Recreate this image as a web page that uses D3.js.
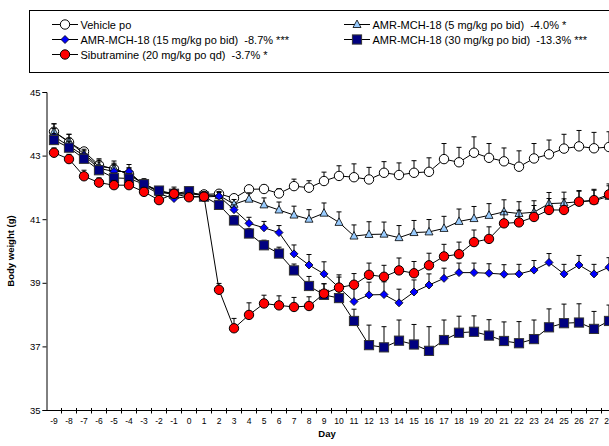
<!DOCTYPE html>
<html>
<head>
<meta charset="utf-8">
<script src="https://cdn.jsdelivr.net/npm/d3@7"></script>
<style>
  body { margin: 0; background: #fff; }
  svg { display: block; font-family: "Liberation Sans", Arial, sans-serif; }
</style>
</head>
<body>
<svg width="609" height="446"></svg>
<script>
// days on the x axis (category axis)
const days = d3.range(-9, 29);
const yTicks = [35, 37, 39, 41, 43, 45];

// body weight (g), one value per day
const vehicle = [43.75, 43.42, 43.13, 42.7, 42.58, 42.42, 42.12, 41.86, 41.81, 41.82, 41.78, 41.8, 41.66, 41.94, 41.95, 41.81, 42.04, 41.99, 42.2, 42.36, 42.32, 42.25, 42.46, 42.39, 42.46, 42.49, 42.89, 42.79, 43.09, 42.93, 42.82, 42.65, 42.91, 43.04, 43.22, 43.29, 43.23, 43.27];
const vehicleErr = [0.25, 0.25, 0.12, 0.2, 0.18, 0.2, 0.15, 0.15, 0.2, 0.15, 0.12, 0.1, 0.08, 0.1, 0.12, 0.15, 0.22, 0.22, 0.28, 0.32, 0.42, 0.38, 0.35, 0.38, 0.38, 0.44, 0.49, 0.47, 0.5, 0.45, 0.42, 0.5, 0.47, 0.45, 0.45, 0.5, 0.5, 0.48];

const mch5 = [43.75, 43.44, 43.05, 42.66, 42.6, 42.4, 42.1, 41.85, 41.78, 41.8, 41.75, 41.75, 41.47, 41.63, 41.45, 41.29, 41.13, 41.0, 41.19, 40.9, 40.47, 40.52, 40.53, 40.42, 40.58, 40.6, 40.71, 40.93, 41.02, 41.12, 41.23, 41.18, 41.22, 41.49, 41.51, 41.55, 41.58, 41.72];
const mch5Err = [0.25, 0.23, 0.15, 0.2, 0.23, 0.2, 0.15, 0.15, 0.15, 0.12, 0.12, 0.12, 0.15, 0.2, 0.22, 0.25, 0.28, 0.3, 0.32, 0.33, 0.35, 0.4, 0.38, 0.38, 0.38, 0.39, 0.38, 0.39, 0.38, 0.37, 0.38, 0.37, 0.36, 0.35, 0.34, 0.33, 0.33, 0.33];

const mch15 = [43.6, 43.3, 43.0, 42.6, 42.5, 42.5, 42.05, 41.8, 41.65, 41.72, 41.7, 41.72, 41.3, 40.87, 40.73, 40.58, 39.91, 39.56, 39.28, 38.85, 38.41, 38.62, 38.63, 38.37, 38.71, 38.93, 39.14, 39.32, 39.32, 39.3, 39.27, 39.28, 39.4, 39.64, 39.28, 39.56, 39.28, 39.49];
const mch15Err = [0.25, 0.25, 0.15, 0.2, 0.2, 0.22, 0.15, 0.15, 0.15, 0.12, 0.12, 0.12, 0.15, 0.19, 0.2, 0.22, 0.28, 0.33, 0.38, 0.4, 0.45, 0.4, 0.4, 0.43, 0.38, 0.35, 0.32, 0.3, 0.3, 0.3, 0.3, 0.3, 0.3, 0.28, 0.3, 0.3, 0.3, 0.3];

const mch30 = [43.49, 43.25, 42.9, 42.54, 42.3, 42.28, 42.1, 41.9, 41.8, 41.88, 41.71, 41.45, 40.96, 40.55, 40.18, 39.92, 39.39, 38.9, 38.62, 38.52, 37.8, 37.04, 36.97, 37.18, 37.06, 36.86, 37.2, 37.43, 37.46, 37.34, 37.17, 37.1, 37.23, 37.6, 37.73, 37.75, 37.55, 37.8];
const mch30Err = [0.2, 0.2, 0.15, 0.15, 0.15, 0.15, 0.12, 0.12, 0.12, 0.12, 0.12, 0.12, 0.15, 0.15, 0.16, 0.2, 0.2, 0.3, 0.35, 0.42, 0.37, 0.63, 0.65, 0.65, 0.63, 0.76, 0.63, 0.52, 0.5, 0.5, 0.6, 0.68, 0.6, 0.58, 0.6, 0.59, 0.55, 0.5];

const sibu = [43.09, 42.89, 42.35, 42.15, 42.07, 42.07, 41.86, 41.6, 41.8, 41.69, 41.71, 38.78, 37.57, 37.99, 38.35, 38.29, 38.24, 38.27, 38.66, 38.85, 38.94, 39.25, 39.19, 39.39, 39.3, 39.55, 39.83, 39.9, 40.28, 40.38, 40.87, 40.9, 41.07, 41.29, 41.29, 41.55, 41.6, 41.78];
const sibuErr = [0.15, 0.15, 0.19, 0.15, 0.15, 0.15, 0.12, 0.12, 0.12, 0.12, 0.12, 0.2, 0.31, 0.38, 0.26, 0.3, 0.3, 0.29, 0.31, 0.33, 0.35, 0.37, 0.36, 0.39, 0.37, 0.38, 0.38, 0.38, 0.38, 0.38, 0.38, 0.38, 0.36, 0.36, 0.35, 0.35, 0.34, 0.33];

const series = [
  { name: "Vehicle po", values: vehicle, err: vehicleErr, marker: "circle", fill: "#ffffff" },
  { name: "AMR-MCH-18 (5 mg/kg po bid)  -4.0% *", values: mch5, err: mch5Err, marker: "triangle", fill: "#99ccff" },
  { name: "AMR-MCH-18 (15 mg/kg po bid)  -8.7% ***", values: mch15, err: mch15Err, marker: "diamond", fill: "#0000ff" },
  { name: "AMR-MCH-18 (30 mg/kg po bid)  -13.3% ***", values: mch30, err: mch30Err, marker: "square", fill: "#000080" },
  { name: "Sibutramine (20 mg/kg po qd)  -3.7% *", values: sibu, err: sibuErr, marker: "circle", fill: "#ff0000" }
];

const svg = d3.select("svg");

const x = d3.scaleBand().domain(days).range([46.5, 46.5 + 15 * days.length]).padding(0);
const cx = d => x(d) + x.bandwidth() / 2;
const y = d3.scaleLinear().domain([35, 45]).range([410, 92]);

// marker drawing helper
function drawMarker(g, type, fill, px, py) {
  if (type === "circle") {
    g.append("circle").attr("cx", px).attr("cy", py).attr("r", 4.7)
      .attr("fill", fill).attr("stroke", "#000").attr("stroke-width", 1);
  } else if (type === "triangle") {
    g.append("path").attr("d", `M${px},${py - 4.5}L${px + 4},${py + 3}L${px - 4},${py + 3}Z`)
      .attr("fill", fill).attr("stroke", "#000").attr("stroke-width", 0.8);
  } else if (type === "diamond") {
    g.append("path").attr("d", `M${px},${py - 4}L${px + 4},${py}L${px},${py + 4}L${px - 4},${py}Z`)
      .attr("fill", fill).attr("stroke", "#000").attr("stroke-width", 0.8);
  } else if (type === "square") {
    g.append("rect").attr("x", px - 4.6).attr("y", py - 4.6).attr("width", 9.2).attr("height", 9.2)
      .attr("fill", fill).attr("stroke", "#333").attr("stroke-width", 1);
  }
}

// axes
const yAxis = svg.append("g").attr("transform", "translate(46.5,0)")
  .call(d3.axisLeft(y).tickValues(yTicks).tickSize(4).tickPadding(2));
yAxis.select(".domain").attr("stroke", "#000");
yAxis.selectAll("text").attr("font-size", 9.5).attr("fill", "#000");

const xAxis = svg.append("g").attr("transform", "translate(0,410.5)");
xAxis.append("line").attr("x1", 46.5).attr("x2", 46.5 + 15 * days.length).attr("stroke", "#000");
xAxis.selectAll(".xt").data(days).enter().append("line")
  .attr("x1", d => x(d) + 15).attr("x2", d => x(d) + 15)
  .attr("y1", -2.5).attr("y2", 3).attr("stroke", "#000");
xAxis.selectAll(".xl").data(days).enter().append("text")
  .attr("x", d => cx(d)).attr("y", 13).attr("text-anchor", "middle")
  .attr("font-size", 8.5).text(d => d);

svg.append("text").attr("x", 327).attr("y", 437).attr("text-anchor", "middle")
  .attr("font-size", 9.5).attr("font-weight", "bold").text("Day");
svg.append("text").attr("transform", "translate(14,251) rotate(-90)").attr("text-anchor", "middle")
  .attr("font-size", 9.5).attr("font-weight", "bold").text("Body weight (g)");

// series
const line = d3.line().x((v, i) => cx(days[i])).y(v => y(v));
series.forEach(s => {
  const g = svg.append("g");
  g.append("path").attr("d", line(s.values)).attr("fill", "none").attr("stroke", "#000").attr("stroke-width", 1);
  s.values.forEach((v, i) => {
    const px = cx(days[i]);
    const top = y(v + s.err[i]);
    g.append("line").attr("x1", px).attr("x2", px).attr("y1", y(v)).attr("y2", top).attr("stroke", "#000");
    g.append("line").attr("x1", px - 2.5).attr("x2", px + 2.5).attr("y1", top).attr("y2", top).attr("stroke", "#000");
  });
  s.values.forEach((v, i) => drawMarker(g, s.marker, s.fill, cx(days[i]), y(v)));
});

// legend
const legend = svg.append("g");
legend.append("rect").attr("x", 29.5).attr("y", 10.5).attr("width", 600).attr("height", 62)
  .attr("fill", "#fff").attr("stroke", "#000");
const legPos = [[52, 24.5], [344, 24.5], [52, 39.5], [344, 39.5], [52, 54.5]];
series.forEach((s, i) => {
  const [lx, ly] = legPos[i];
  legend.append("line").attr("x1", lx).attr("x2", lx + 26).attr("y1", ly).attr("y2", ly).attr("stroke", "#000");
  drawMarker(legend, s.marker, s.fill, lx + 13, ly);
  legend.append("text").attr("x", lx + 28.5).attr("y", ly + 4).attr("font-size", 11)
    .style("white-space", "pre").text(s.name);
});
</script>
</body>
</html>
